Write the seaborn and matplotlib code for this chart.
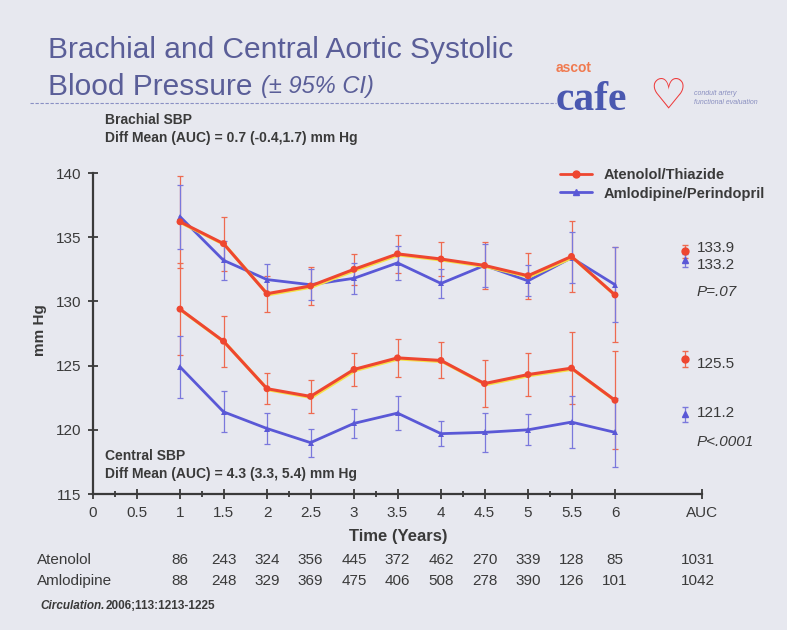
import matplotlib
matplotlib.use('Agg')
import matplotlib.pyplot as plt
import matplotlib.patheffects as pe
from matplotlib.lines import Line2D
import seaborn as sns
import pandas as pd

# follow-up years
years = [1, 1.5, 2, 2.5, 3, 3.5, 4, 4.5, 5, 5.5, 6]

# brachial SBP (mean, +/- 95% CI half-width)
brach_aten = [136.2, 134.5, 130.6, 131.2, 132.5, 133.7, 133.3, 132.8, 132.0, 133.5, 130.5]
brach_aten_ci = [3.6, 2.1, 1.4, 1.5, 1.2, 1.5, 1.3, 1.8, 1.8, 2.8, 3.7]
brach_amlo = [136.6, 133.2, 131.7, 131.3, 131.8, 133.0, 131.4, 132.8, 131.6, 133.4, 131.3]
brach_amlo_ci = [2.5, 1.5, 1.2, 1.2, 1.2, 1.3, 1.1, 1.7, 1.2, 2.0, 2.9]

# central SBP
cent_aten = [129.4, 126.9, 123.2, 122.6, 124.7, 125.6, 125.4, 123.6, 124.3, 124.8, 122.3]
cent_aten_ci = [3.6, 2.0, 1.2, 1.3, 1.3, 1.5, 1.4, 1.8, 1.7, 2.8, 3.8]
cent_amlo = [124.9, 121.4, 120.1, 119.0, 120.5, 121.3, 119.7, 119.8, 120.0, 120.6, 119.8]
cent_amlo_ci = [2.4, 1.6, 1.2, 1.1, 1.1, 1.3, 1.0, 1.5, 1.2, 2.0, 2.7]

# AUC summary values
auc_x = 6.8
auc_aten = [133.9, 125.5]
auc_amlo = [133.2, 121.2]
auc_ci = [0.5, 0.6]

# patient numbers table
n_pos = [1, 1.5, 2, 2.5, 3, 3.5, 4, 4.5, 5, 5.5, 6, 7]
n_aten = [86, 243, 324, 356, 445, 372, 462, 270, 339, 128, 85, 1031]
n_amlo = [88, 248, 329, 369, 475, 406, 508, 278, 390, 126, 101, 1042]

xticks = [0, 0.5, 1, 1.5, 2, 2.5, 3, 3.5, 4, 4.5, 5, 5.5, 6, 7]
xticklabels = ['0', '0.5', '1', '1.5', '2', '2.5', '3', '3.5', '4', '4.5', '5', '5.5', '6', 'AUC']

RED = '#ee4630'
BLUE = '#5a58d6'
BG = '#e7e8ef'
INK = '#3a3a3a'
TITLE = '#5a5e98'

sns.set_style('ticks')
plt.rcParams['font.family'] = ['Liberation Sans', 'DejaVu Sans']

df = pd.concat([
    pd.DataFrame({'year': years, 'sbp': brach_aten, 'arm': 'Atenolol/Thiazide', 'site': 'brachial'}),
    pd.DataFrame({'year': years, 'sbp': brach_amlo, 'arm': 'Amlodipine/Perindopril', 'site': 'brachial'}),
    pd.DataFrame({'year': years, 'sbp': cent_aten, 'arm': 'Atenolol/Thiazide', 'site': 'central'}),
    pd.DataFrame({'year': years, 'sbp': cent_amlo, 'arm': 'Amlodipine/Perindopril', 'site': 'central'}),
])

fig = plt.figure(figsize=(7.87, 6.30), dpi=100, facecolor=BG)
ax = fig.add_axes([93 / 787, 1 - 494 / 630, (702 - 93) / 787, (494 - 173) / 630])
ax.set_facecolor(BG)

shadow = [pe.SimpleLineShadow(offset=(0.8, -0.8), shadow_color='#f4e24a', alpha=1), pe.Normal()]

# error bars
for y, e in [(brach_aten, brach_aten_ci), (cent_aten, cent_aten_ci)]:
    ax.errorbar(years, y, yerr=e, fmt='none', ecolor='#ee6a50', elinewidth=0.9, capsize=2.5, capthick=0.9, zorder=2)
for y, e in [(brach_amlo, brach_amlo_ci), (cent_amlo, cent_amlo_ci)]:
    ax.errorbar(years, y, yerr=e, fmt='none', ecolor='#7a78dc', elinewidth=0.9, capsize=2.5, capthick=0.9, zorder=2)

# lines
for site in ['brachial', 'central']:
    d = df[df['site'] == site]
    sns.lineplot(data=d[d['arm'] == 'Atenolol/Thiazide'], x='year', y='sbp', color=RED, lw=2.2,
                 marker='o', markersize=5, markeredgewidth=0, ax=ax, zorder=4, path_effects=shadow)
    sns.lineplot(data=d[d['arm'] == 'Amlodipine/Perindopril'], x='year', y='sbp', color=BLUE, lw=2.0,
                 marker='^', markersize=5, markeredgewidth=0, ax=ax, zorder=3)

# AUC markers
ax.errorbar([auc_x] * 2, auc_aten, yerr=auc_ci, fmt='o', color=RED, ms=5, elinewidth=0.9,
            capsize=2.5, ecolor='#ee6a50', zorder=5)
ax.errorbar([auc_x] * 2, auc_amlo, yerr=auc_ci, fmt='^', color=BLUE, ms=5, elinewidth=0.9,
            capsize=2.5, ecolor='#7a78dc', zorder=5)

ax.set_xlim(0, 7)
ax.set_ylim(115, 140)
ax.set_xticks(xticks)
ax.set_xticklabels(xticklabels)
ax.set_yticks([115, 120, 125, 130, 135, 140])
ax.set_xticks([x + 0.25 for x in range(6)], minor=True)
ax.tick_params(axis='both', which='both', direction='inout', length=7, width=1.3, color=INK,
               labelsize=11, labelcolor=INK, pad=5)
ax.tick_params(axis='x', which='minor', length=4)
ax.set_xlabel('')
ax.set_ylabel('')
sns.despine(ax=ax)
for s in ['left', 'bottom']:
    ax.spines[s].set_linewidth(1.6)
    ax.spines[s].set_color(INK)

# legend
handles = [Line2D([], [], color=RED, lw=2, marker='o', ms=5),
           Line2D([], [], color=BLUE, lw=2, marker='^', ms=5)]
fig.legend(handles, ['Atenolol/Thiazide', 'Amlodipine/Perindopril'], loc='upper right',
           bbox_to_anchor=(778 / 787, 1 - 155 / 630), frameon=False, handlelength=2.2,
           labelspacing=0.3, prop={'weight': 'bold', 'size': 10.5}, labelcolor=INK)

# right-hand AUC numbers
for ypix, txt, style in [(248, '133.9', 'normal'), (265, '133.2', 'normal'), (292, 'P=.07', 'italic'),
                         (364, '125.5', 'normal'), (413, '121.2', 'normal'), (442, 'P<.0001', 'italic')]:
    fig.text(697 / 787, 1 - ypix / 630, txt, fontsize=11, color=INK, va='center', ha='left', style=style)

# panel annotations
fig.text(105 / 787, 1 - 129 / 630, 'Brachial SBP\nDiff Mean (AUC) = 0.7 (-0.4,1.7) mm Hg',
         fontsize=10, fontweight='bold', color=INK, va='center', linespacing=1.4)
fig.text(105 / 787, 1 - 465 / 630, 'Central SBP\nDiff Mean (AUC) = 4.3 (3.3, 5.4) mm Hg',
         fontsize=10, fontweight='bold', color=INK, va='center', linespacing=1.4)

# axis labels
fig.text(40 / 787, 1 - 330 / 630, 'mm Hg', rotation=90, fontsize=11, fontweight='bold', color=INK,
         va='center', ha='center')
fig.text(398 / 787, 1 - 537 / 630, 'Time (Years)', fontsize=12, fontweight='bold', color=INK,
         va='center', ha='center')

# title
fig.text(48 / 787, 1 - 50 / 630, 'Brachial and Central Aortic Systolic', fontsize=21.5,
         color=TITLE, va='center')
t2 = fig.text(48 / 787, 1 - 87 / 630, 'Blood Pressure', fontsize=21.5, color=TITLE, va='center')
ax.annotate('(± 95% CI)', xy=(1, 0.5), xycoords=t2, xytext=(6, 0), textcoords='offset points',
            fontsize=17, color=TITLE, va='center', style='italic', annotation_clip=False)
fig.add_artist(Line2D([30 / 787, 556 / 787], [1 - 103 / 630] * 2, color='#8a90c4', lw=0.8,
                      ls=(0, (3, 1.5))))

# logo
fig.text(556 / 787, 1 - 68 / 630, 'ascot', fontsize=10, fontweight='bold', color='#f07a50', va='center')
fig.text(556 / 787, 1 - 110 / 630, 'cafe', fontsize=30, fontweight='bold', color='#4a58b0',
         va='baseline', family=['Liberation Serif'])
fig.text(668 / 787, 1 - 96 / 630, '\u2661', fontsize=30, color='#ee3a3a', va='center', ha='center',
         family=['DejaVu Sans'], fontweight='bold')
fig.text(694 / 787, 1 - 98 / 630, 'conduit artery\nfunctional evaluation', fontsize=5, color='#8a8fc0',
         va='center', style='italic', linespacing=1.3)

# numbers at risk table
tr = ax.get_xaxis_transform()
fig.text(37 / 787, 1 - 560 / 630, 'Atenolol', fontsize=11, color=INK, va='center')
fig.text(37 / 787, 1 - 581 / 630, 'Amlodipine', fontsize=11, color=INK, va='center')
for x, a, b in zip(n_pos, n_aten, n_amlo):
    xx = x - 0.05 if x == 7 else x
    ax.text(xx, -66 / 321, str(a), transform=tr, fontsize=11, color=INK, ha='center', va='center')
    ax.text(xx, -87 / 321, str(b), transform=tr, fontsize=11, color=INK, ha='center', va='center')

c1 = fig.text(40 / 787, 1 - 606 / 630, 'Circulation.', fontsize=8.5, fontweight='bold', style='italic',
              color=INK, va='center')
ax.annotate('2006;113:1213-1225', xy=(1, 0.5), xycoords=c1, xytext=(1, 0), textcoords='offset points',
            fontsize=8.5, fontweight='bold', color=INK, va='center', annotation_clip=False)

fig.savefig('out.png', dpi=100, facecolor=BG)
